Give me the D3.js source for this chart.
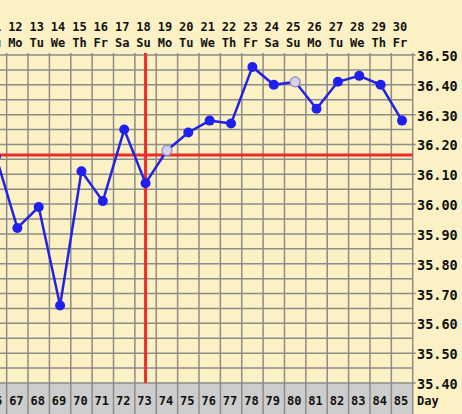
<!DOCTYPE html>
<html>
<head>
<meta charset="utf-8">
<script src="https://cdn.jsdelivr.net/npm/d3@7"></script>
<style>
  body { margin: 0; background: #fcf1c4; }
  svg { display: block; }
  text { font-family: "DejaVu Sans Mono", monospace; font-weight: bold; fill: #111; }
</style>
</head>
<body>
<svg id="scene" width="462" height="414"></svg>
<script>
// cycle day, date of month, weekday, temperature, open (excluded) reading
const cycleDays = [66, 67, 68, 69, 70, 71, 72, 73, 74, 75, 76, 77, 78, 79, 80, 81, 82, 83, 84, 85];
const dates = [11, 12, 13, 14, 15, 16, 17, 18, 19, 20, 21, 22, 23, 24, 25, 26, 27, 28, 29, 30];
const weekdays = ['Su', 'Mo', 'Tu', 'We', 'Th', 'Fr', 'Sa', 'Su', 'Mo', 'Tu', 'We', 'Th', 'Fr', 'Sa', 'Su', 'Mo', 'Tu', 'We', 'Th', 'Fr'];
const temps = [36.16, 35.92, 35.99, 35.66, 36.11, 36.01, 36.25, 36.07, 36.18, 36.24, 36.28, 36.27, 36.46, 36.40, 36.41, 36.32, 36.41, 36.43, 36.40, 36.28];
const openPoints = [false, false, false, false, false, false, false, false, true, false, false, false, false, false, true, false, false, false, false, false];
const yTicks = ['35.40', '35.50', '35.60', '35.70', '35.80', '35.90', '36.00', '36.10', '36.20', '36.30', '36.40', '36.50'];
const coverline = 36.165;
const ovulationDay = 73;

const svg = d3.select('#scene');
const colW = 21.37;
const gridRight = 412.7;
const gridTop = 55, gridBottom = 383;

let x = d3.scaleLinear().domain([85.5 - 20, 85.5]).range([gridRight - 20 * colW, gridRight]);
let y = d3.scaleLinear().domain([35.40, 36.50]).range([gridBottom, gridTop]);

// bottom "Day" row
svg.append('rect')
	.attr('x', -30).attr('y', gridBottom)
	.attr('width', gridRight + 30).attr('height', 40)
	.attr('fill', '#cdcdcd');

// horizontal grid every 0.05
let hLines = d3.range(0, 23).map((i) => 35.40 + i * 0.05);
svg.append('g').selectAll('line').data(hLines).enter().append('line')
	.attr('x1', -10).attr('x2', (d, i) => (i % 2 === 0 ? gridRight + 3 : gridRight))
	.attr('y1', (d) => y(d)).attr('y2', (d) => y(d))
	.attr('stroke', '#8c8c88').attr('stroke-width', 1.5);

// vertical grid, one per day column
let edges = cycleDays.map((d) => d + 0.5).concat([65.5]);
svg.append('g').selectAll('line').data(edges).enter().append('line')
	.attr('x1', (d) => x(d)).attr('x2', (d) => x(d))
	.attr('y1', gridTop - 2).attr('y2', 414)
	.attr('stroke', '#8c8c88').attr('stroke-width', 1.5);

// coverline and ovulation marker
svg.append('line')
	.attr('x1', -10).attr('x2', gridRight)
	.attr('y1', y(coverline)).attr('y2', y(coverline))
	.attr('stroke', '#ee2a2a').attr('stroke-width', 3);
svg.append('line')
	.attr('x1', x(ovulationDay)).attr('x2', x(ovulationDay))
	.attr('y1', gridTop - 2).attr('y2', gridBottom)
	.attr('stroke', '#ee2a2a').attr('stroke-width', 3);

// top labels
svg.append('g').selectAll('text').data(dates).enter().append('text')
	.attr('x', (d, i) => x(cycleDays[i]) - 2).attr('y', 31)
	.attr('text-anchor', 'middle').attr('font-size', 12)
	.text((d) => d);
svg.append('g').selectAll('text').data(weekdays).enter().append('text')
	.attr('x', (d, i) => x(cycleDays[i]) - 2).attr('y', 47)
	.attr('text-anchor', 'middle').attr('font-size', 12)
	.text((d) => d);

// bottom cycle day labels
svg.append('g').selectAll('text').data(cycleDays).enter().append('text')
	.attr('x', (d) => x(d) - 1).attr('y', 405)
	.attr('text-anchor', 'middle').attr('font-size', 12)
	.text((d) => d);
svg.append('text')
	.attr('x', 417).attr('y', 405).attr('font-size', 12)
	.text('Day');

// temperature axis on the right
svg.append('g').selectAll('text').data(yTicks).enter().append('text')
	.attr('x', 417).attr('y', (d) => y(+d) + 6)
	.attr('font-size', 13.5)
	.text((d) => d);

// the curve
let pts = temps.map((t, i) => ({ day: cycleDays[i], t: t, open: openPoints[i] }));
let line = d3.line().x((d) => x(d.day)).y((d) => y(d.t));
svg.append('path')
	.attr('d', line(pts))
	.attr('fill', 'none')
	.attr('stroke', '#2323e4').attr('stroke-width', 2.5);

svg.append('g').selectAll('circle').data(pts).enter().append('circle')
	.attr('cx', (d) => x(d.day)).attr('cy', (d) => y(d.t))
	.attr('r', 5)
	.attr('fill', (d) => (d.open ? '#d8d2e4' : '#1f1fee'))
	.attr('stroke', (d) => (d.open ? '#8a8ad2' : 'none'))
	.attr('stroke-width', 1.2);
</script>
</body>
</html>
